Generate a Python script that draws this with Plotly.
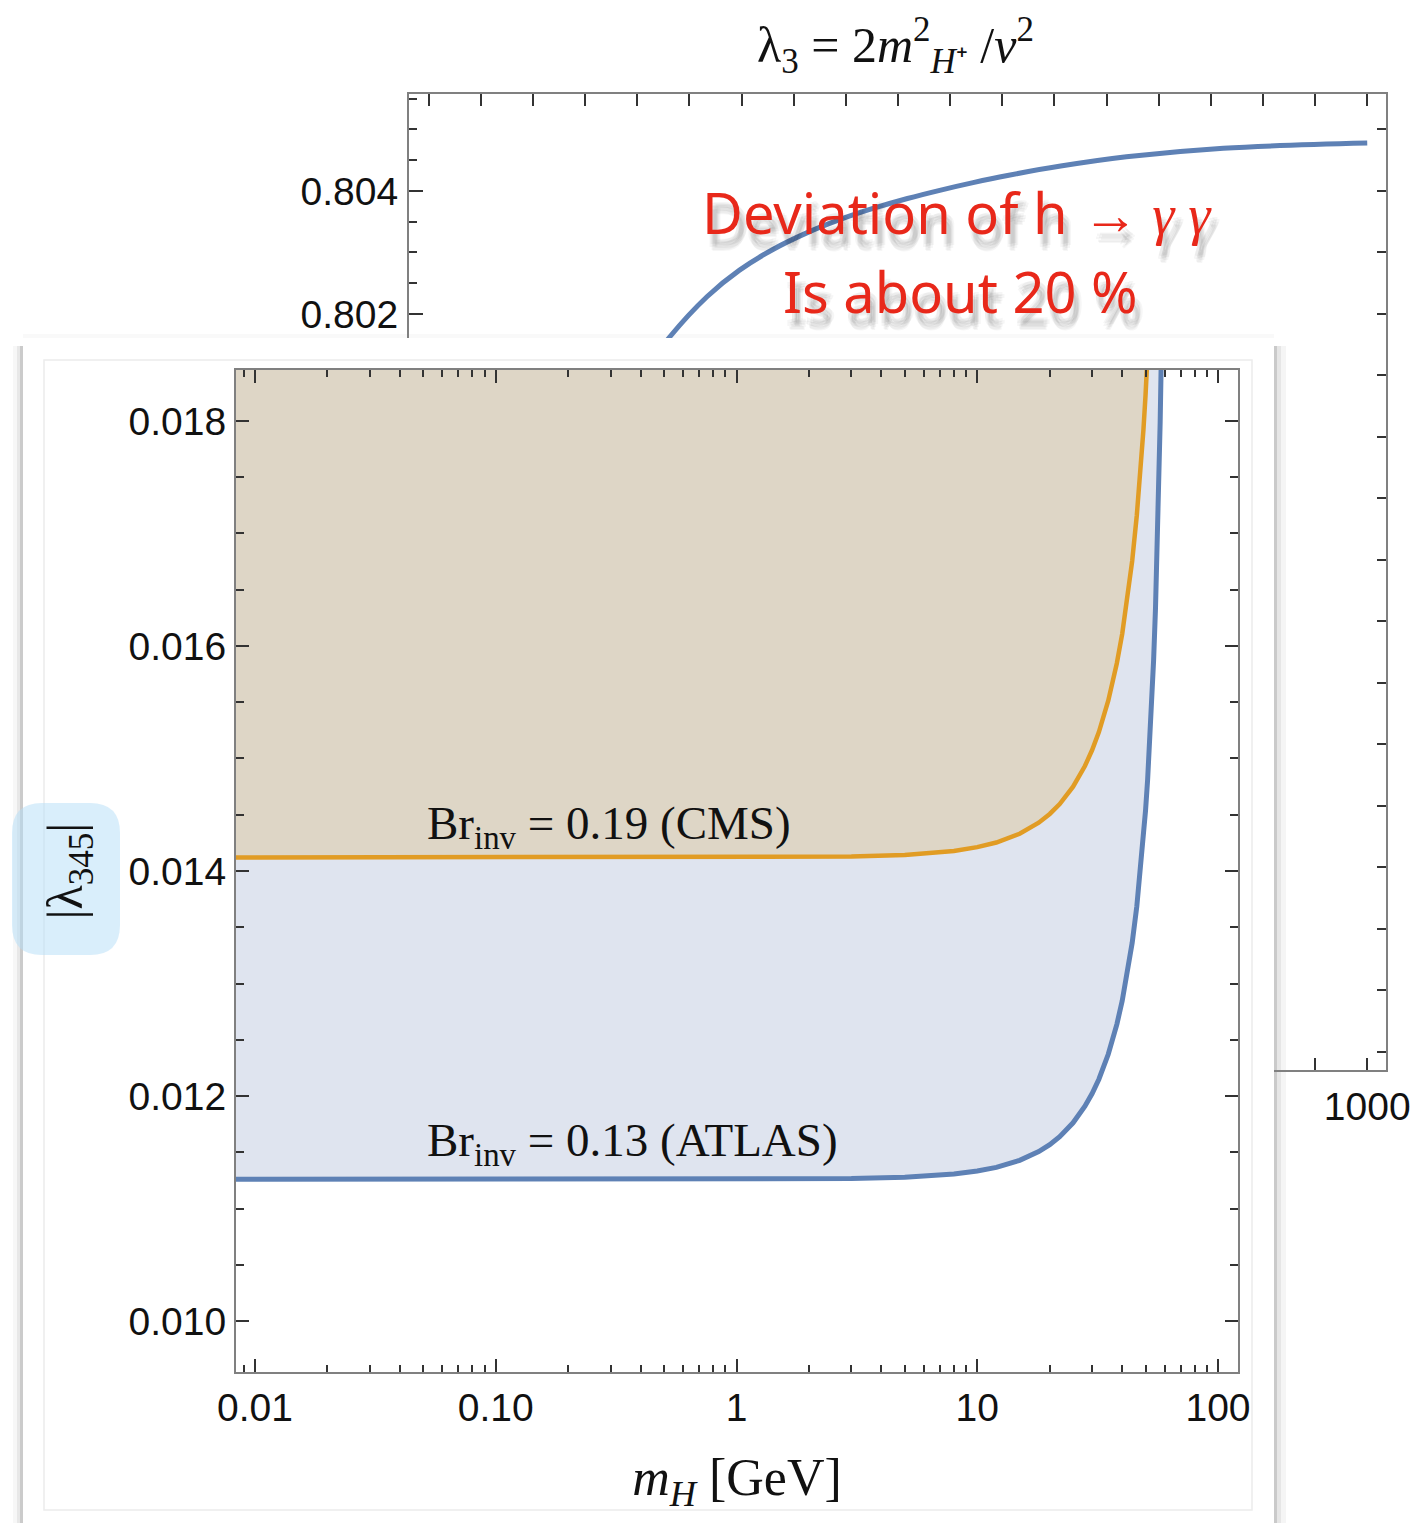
import plotly.graph_objects as go

W, H = 1422, 1523

# ---------------- data ----------------
# back panel: lambda_3 = 2 m_H+^2 / v^2 curve
m_back = [300, 331, 367, 398, 430, 463, 494, 526, 559, 590, 622, 655, 706,
          769, 862, 1000]
val_back = [0.80091, 0.801626, 0.802285, 0.802713, 0.803049, 0.803323,
            0.803534, 0.803716, 0.803878, 0.804011, 0.804136, 0.804252,
            0.804405, 0.804556, 0.804696, 0.804779]

# front panel: |lambda_345| bound vs m_H
mH_atlas = [0.008, 0.1, 1, 3, 5, 8, 10, 12, 15, 18, 20, 22, 25, 28, 30, 32, 35,
            38, 40, 42, 44, 46, 48, 50, 51, 52, 53, 54, 55, 56, 56.5, 57, 57.5,
            58, 58.5, 59]
lam_atlas = [0.011260, 0.011260, 0.011261, 0.011266, 0.011278, 0.011307,
             0.011333, 0.011366, 0.011428, 0.011506, 0.011568, 0.011639,
             0.011762, 0.011909, 0.012022, 0.012149, 0.012371, 0.012637,
             0.012846, 0.013085, 0.013362, 0.013686, 0.014070, 0.014537,
             0.014810, 0.015118, 0.015467, 0.015869, 0.016338, 0.016897,
             0.017221, 0.017581, 0.017986, 0.018447, 0.018979, 0.019602]

mH_cms = [0.008, 0.1, 1, 3, 5, 8, 10, 12, 15, 18, 20, 22, 25, 28, 30, 32, 35,
          38, 40, 42, 44, 46, 47, 48, 49, 50, 50.5, 51, 51.5, 52]
lam_cms = [0.014120, 0.014120, 0.014121, 0.014128, 0.014143, 0.014178,
           0.014212, 0.014253, 0.014331, 0.014429, 0.014507, 0.014595,
           0.014749, 0.014933, 0.015075, 0.015235, 0.015513, 0.015847,
           0.016108, 0.016408, 0.016755, 0.017162, 0.017392, 0.017644,
           0.017921, 0.018229, 0.018395, 0.018572, 0.018759, 0.018957]

front_xticks = [0.01, 0.1, 1, 10, 100]
front_xtext = ["0.01", "0.10", "1", "10", "100"]
front_xminor = [d * 10.0 ** e for e in range(-3, 3) for d in range(2, 10)]
back_xticks = [200, 400, 600, 800, 1000]
back_xtext = ["200", "400", "600", "800", "1000"]

# ---------------- styles ----------------
BLUE = "#5e81b5"
ORANGE = "#e19c24"
FILL_BLUE = "#dfe4ef"
FILL_BEIGE = "#ded6c6"
FRAME = "#808080"
TICK = "#333333"
RED = "#e8281a"
SANS = "Liberation Sans"
SERIF = "Liberation Serif"


def px(x):
    return x / W


def py(y):
    return 1 - y / H


fig = go.Figure()

# back panel curve
fig.add_trace(go.Scatter(x=m_back, y=val_back, xaxis="x", yaxis="y", mode="lines",
                         line=dict(color=BLUE, width=5, shape="spline"),
                         showlegend=False, hoverinfo="skip"))
# carrier for the right-hand tick axis of the back panel
fig.add_trace(go.Scatter(x=[], y=[], xaxis="x", yaxis="y4", mode="lines",
                         showlegend=False, hoverinfo="skip"))
# card (front panel sheet)
fig.add_trace(go.Scatter(x=[], y=[], xaxis="x2", yaxis="y2", mode="lines",
                         showlegend=False, hoverinfo="skip"))

# front fills
ceil = max(lam_atlas)
fig.add_trace(go.Scatter(x=mH_atlas + [mH_atlas[-1], mH_atlas[0]],
                         y=lam_atlas + [ceil, ceil], xaxis="x3", yaxis="y3",
                         mode="lines", fill="toself", fillcolor=FILL_BLUE,
                         line=dict(width=0), showlegend=False, hoverinfo="skip"))
fig.add_trace(go.Scatter(x=mH_cms + [mH_cms[-1], mH_cms[0]],
                         y=lam_cms + [ceil, ceil], xaxis="x3", yaxis="y3",
                         mode="lines", fill="toself", fillcolor=FILL_BEIGE,
                         line=dict(width=0), showlegend=False, hoverinfo="skip"))
# front lines
fig.add_trace(go.Scatter(x=mH_atlas, y=lam_atlas, xaxis="x3", yaxis="y3", mode="lines",
                         line=dict(color=BLUE, width=5), showlegend=False,
                         hoverinfo="skip"))
fig.add_trace(go.Scatter(x=mH_cms, y=lam_cms, xaxis="x3", yaxis="y3", mode="lines",
                         line=dict(color=ORANGE, width=4.5), showlegend=False,
                         hoverinfo="skip"))

tickfont = dict(family=SANS, size=39, color="#111111")

common = dict(showline=True, linecolor=FRAME, linewidth=2, ticks="inside",
              tickcolor=TICK, tickwidth=1.5, showgrid=False, zeroline=False,
              tickfont=tickfont, automargin=False)

fig.update_layout(
    width=W, height=H, autosize=False,
    margin=dict(l=0, r=0, t=0, b=0, pad=0),
    paper_bgcolor="white", plot_bgcolor="white",
    showlegend=False,
    # back panel
    xaxis=dict(domain=[px(409), px(1386)], range=[81, 1018], anchor="y",
               mirror="allticks", ticklen=12, tickmode="array",
               tickvals=back_xticks, ticktext=back_xtext,
               minor=dict(ticks="inside", ticklen=7, dtick=50, tick0=0,
                          tickcolor=TICK, tickwidth=1.5),
               ticklabelstandoff=1, **common),
    yaxis=dict(domain=[py(1070), py(94)], range=[0.789707, 0.805577], anchor="x",
               mirror=True, ticklen=14, tickmode="linear", tick0=0, dtick=0.002,
               tickformat=".3f",
               minor=dict(ticks="inside", ticklen=8, dtick=0.0005, tick0=0,
                          tickcolor=TICK, tickwidth=1.5),
               ticklabelstandoff=1, **common),
    yaxis4=dict(overlaying="y", side="right", anchor="x",
                range=[0.789707, 0.805577], ticks="inside", ticklen=9,
                tickcolor=TICK, tickwidth=1.5, tickmode="linear", tick0=0,
                dtick=0.001, showticklabels=False, showline=False,
                showgrid=False, zeroline=False, automargin=False),
    # card
    xaxis2=dict(domain=[px(23), px(1274)], range=[23, 1274], anchor="y2",
                visible=False, fixedrange=True, automargin=False),
    yaxis2=dict(domain=[0, py(338)], range=[1523, 338], anchor="x2",
                visible=False, fixedrange=True, automargin=False),
    # front panel
    xaxis3=dict(type="log", domain=[px(236), px(1238)], range=[-2.0789, 2.083],
                anchor="y3", mirror="allticks", ticklen=13, tickmode="array",
                tickvals=front_xticks, ticktext=front_xtext,
                minor=dict(ticks="inside", ticklen=7, tickmode="array",
                           tickvals=front_xminor, tickcolor=TICK, tickwidth=1.5),
                ticklabelstandoff=0,
                title=dict(text="<i>m</i><sub><i>H</i></sub> [GeV]",
                           font=dict(family=SERIF, size=52, color="#111111"),
                           standoff=31),
                **common),
    yaxis3=dict(domain=[py(1372), py(370)], range=[0.009547, 0.018453], anchor="x3",
                mirror="allticks", ticklen=13, tickmode="linear", tick0=0,
                dtick=0.002, tickformat=".3f",
                minor=dict(ticks="inside", ticklen=8, dtick=0.0005, tick0=0,
                           tickcolor=TICK, tickwidth=1.5),
                ticklabelstandoff=0,
                title=dict(text="|λ<sub>345</sub>|",
                           font=dict(family=SERIF, size=50, color="#111111"),
                           standoff=30),
                **common),
)

shapes = []
# card drop shadow (paper coords, beneath everything)
for (x0, x1, a) in [(1274, 1286, 0.04), (1274, 1281, 0.06), (1274, 1277, 0.12)]:
    shapes.append(dict(type="rect", xref="paper", yref="paper", layer="below",
                       x0=px(x0), x1=px(x1), y0=py(1523), y1=py(346),
                       fillcolor=f"rgba(0,0,0,{a})", line=dict(width=0)))
for (x0, x1, a) in [(13, 23, 0.03), (17, 23, 0.06), (20, 23, 0.12)]:
    shapes.append(dict(type="rect", xref="paper", yref="paper", layer="below",
                       x0=px(x0), x1=px(x1), y0=py(1523), y1=py(346),
                       fillcolor=f"rgba(0,0,0,{a})", line=dict(width=0)))
shapes.append(dict(type="rect", xref="paper", yref="paper", layer="below",
                   x0=px(23), x1=px(1274), y0=py(338), y1=py(334),
                   fillcolor="rgba(0,0,0,0.025)", line=dict(width=0)))
# faint inner frame of the pasted sheet
shapes.append(dict(type="rect", xref="x2", yref="y2", layer="below",
                   x0=44, x1=1252, y0=360, y1=1510,
                   line=dict(color="#ececec", width=1.5)))


def rrect(x0, y0, x1, y1, r):
    def p(x, y):
        return f"{px(x):.5f},{py(y):.5f}"
    return (f"M {p(x0 + r, y0)} L {p(x1 - r, y0)} Q {p(x1, y0)} {p(x1, y0 + r)} "
            f"L {p(x1, y1 - r)} Q {p(x1, y1)} {p(x1 - r, y1)} "
            f"L {p(x0 + r, y1)} Q {p(x0, y1)} {p(x0, y1 - r)} "
            f"L {p(x0, y0 + r)} Q {p(x0, y0)} {p(x0 + r, y0)} Z")


shapes.append(dict(type="path", xref="paper", yref="paper", layer="above",
                   path=rrect(12, 803, 120, 955, 30),
                   fillcolor="rgba(180,222,248,0.5)", line=dict(width=0)))
fig.update_layout(shapes=shapes)

ann = []
# back panel title
ann.append(dict(text="λ<sub>3</sub> = 2<i>m</i><sup>2</sup><sub><i>H</i>⁺</sub> /<i>v</i><sup>2</sup>",
                xref="paper", yref="paper", x=px(895), y=py(45),
                xanchor="center", yanchor="middle", showarrow=False,
                font=dict(family=SERIF, size=50, color="#111111")))
# red note with soft shadow
red_lines = [("Deviation of h <span style='font-family:Liberation Serif'>→ <i>γ γ</i></span>",
              957, 212),
             ("Is about 20 %", 960, 291)]
for (t, cx, cy) in red_lines:
    for (dx, dy) in [(3, 10), (5, 12), (7, 14), (4, 16), (6, 9), (2, 13), (8, 11),
                     (5, 17)]:
        ann.append(dict(text=t, xref="paper", yref="paper", x=px(cx + dx),
                        y=py(cy + dy), xanchor="center", yanchor="middle",
                        showarrow=False,
                        font=dict(family="Noto Sans", size=56,
                                  color="rgba(0,0,0,0.035)")))
for (t, cx, cy) in red_lines:
    ann.append(dict(text=t, xref="paper", yref="paper", x=px(cx), y=py(cy),
                    xanchor="center", yanchor="middle", showarrow=False,
                    font=dict(family="Noto Sans", size=56, color=RED)))
# front panel curve labels
ann.append(dict(text="Br<sub>inv</sub> = 0.19 (CMS)", xref="paper", yref="paper",
                x=px(425), y=py(827), xanchor="left", yanchor="middle",
                showarrow=False, font=dict(family=SERIF, size=47, color="#111111")))
ann.append(dict(text="Br<sub>inv</sub> = 0.13 (ATLAS)", xref="paper", yref="paper",
                x=px(425), y=py(1143), xanchor="left", yanchor="middle",
                showarrow=False, font=dict(family=SERIF, size=47, color="#111111")))
fig.update_layout(annotations=ann)

fig.write_html("out.html",
               config={"displayModeBar": False},
               post_script="document.body.style.margin='0px';"
                           "document.body.style.overflow='hidden';")
